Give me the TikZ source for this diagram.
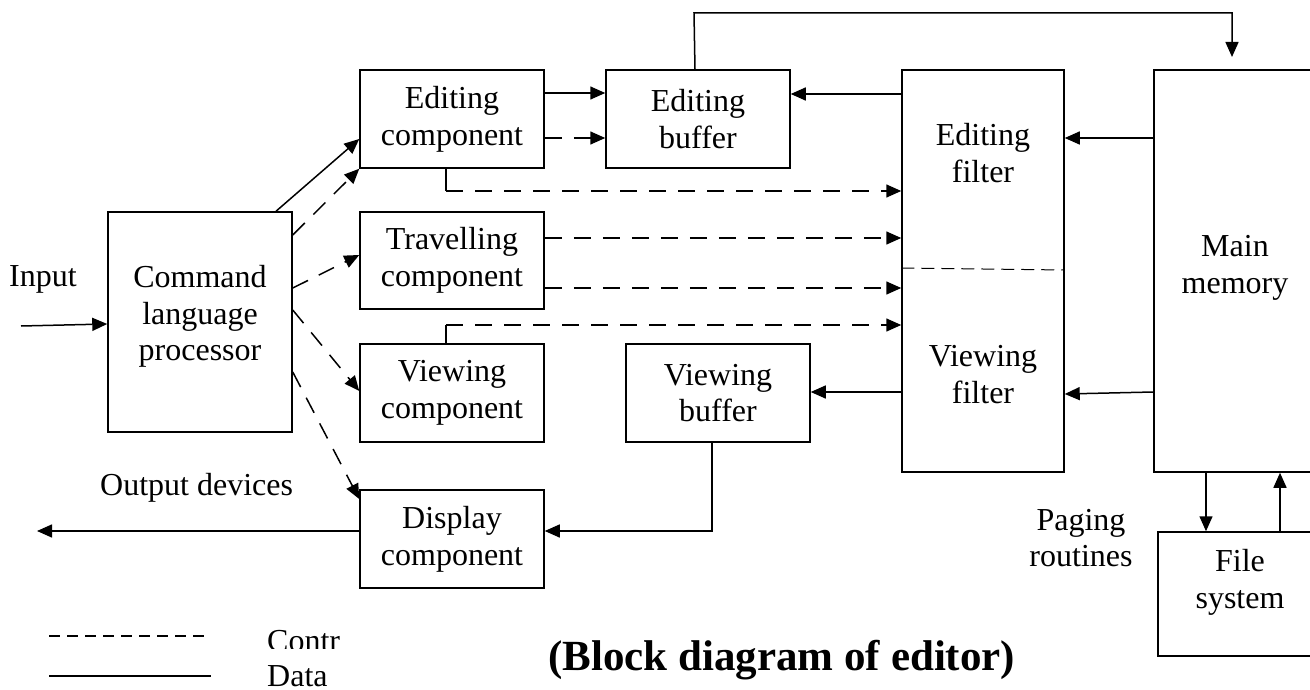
\documentclass[tikz,border=0pt]{standalone}
\usepackage{fontspec}
\setmainfont{Liberation Serif}
\usetikzlibrary{arrows.meta}
\begin{document}
\begin{tikzpicture}[x=1pt,y=-1pt,
  box/.style={draw,line width=1.5pt,inner sep=0pt,align=center,font=\fontsize{32}{36.7}\selectfont},
  txt/.style={inner sep=0pt,align=center,font=\fontsize{32}{36.7}\selectfont},
  dline/.style={line width=1.5pt,-{Triangle[length=15pt,width=13pt]}},
  cline/.style={dline,dash pattern=on 17pt off 12pt},
  pline/.style={line width=1.5pt},
]
\useasboundingbox (0,0) rectangle (1310,690);

% boxes
\node[box,minimum width=184pt,minimum height=220pt] (clp) at (200,322) {};
\node[txt] (clpt) at (200,316.5) {Command\\language\\processor};
\node[box,minimum width=184pt,minimum height=98pt] (ec) at (452,119) {Editing\\component};
\node[box,minimum width=184pt,minimum height=97pt] (tc) at (452,260.5) {Travelling\\component};
\node[box,minimum width=184pt,minimum height=98pt] (vc) at (452,393) {Viewing\\component};
\node[box,minimum width=184pt,minimum height=98pt] (dc) at (452,539) {Display\\component};
\node[box,minimum width=184pt,minimum height=98pt] (eb) at (698,119) {Editing\\buffer};
\node[box,minimum width=184pt,minimum height=98pt] (vb) at (718,393) {Viewing\\buffer};
\node[box,minimum width=162pt,minimum height=402pt] (flt) at (983,271) {};
\node[txt] (eft) at (983,153) {Editing\\filter};
\node[txt] (vft) at (983,374.5) {Viewing\\filter};
\node[box,minimum width=162pt,minimum height=402pt] (mm) at (1235,271) {};
\node[txt] (mmt) at (1235,268) {Main\\memory};
\node[box,minimum width=164pt,minimum height=124pt] (fs) at (1240,594) {};
\node[txt] (fst) at (1240,582.5) {File\\system};

\draw[line width=1pt,dash pattern=on 13pt off 7pt] (flt.west |- 0,268) -- (flt.east |- 0,270);

% labels
\node[txt,anchor=base west] (inl) at (9,286.7) {Input};
\node[txt,anchor=base west] (outl) at (100,495) {Output devices};
\node[txt] (pgl) at (1081,538) {Paging\\routines};

% input / output
\coordinate (in) at (21,326);
\draw[dline] (in) -- (clp.west |- 0,324);
\coordinate (out) at (37,531);
\draw[dline] (dc.west |- 0,531) -- (out);

% from command language processor
\draw[dline] (clp.north -| 276,0) -- (ec.west |- 0,139);
\draw[cline] (clp.east |- 0,235) -- (ec.south west);
\draw[cline] (clp.east |- 0,288) -- (tc.west |- 0,255);
\draw[cline] (clp.east |- 0,310) -- (vc.west |- 0,391);
\draw[cline] (clp.east |- 0,372) -- (dc.west |- 0,499);

% editing component to editing buffer
\draw[dline] (ec.east |- 0,93) -- (eb.west |- 0,93);
\draw[cline] (ec.east |- 0,138) -- (eb.west |- 0,138);

% filter / memory
\draw[dline] (flt.west |- 0,94) -- (eb.east |- 0,94);
\draw[dline] (mm.west |- 0,138) -- (flt.east |- 0,138);
\draw[dline] (mm.west |- 0,392) -- (flt.east |- 0,394);
\draw[dline] (flt.west |- 0,392) -- (vb.east |- 0,392);

% control lines into the filter
\coordinate (c1) at (446,191);
\draw[pline] (ec.south -| 446,0) -- (c1);
\draw[cline] (c1) -- (flt.west |- 0,191);
\draw[cline] (tc.east |- 0,238) -- (flt.west |- 0,238);
\draw[cline] (tc.east |- 0,288) -- (flt.west |- 0,288);
\coordinate (c2) at (446,325);
\draw[pline] (vc.north -| 446,0) -- (c2);
\draw[cline] (c2) -- (flt.west |- 0,325);

% viewing buffer to display
\draw[dline] (vb.south -| 712,0) -- (712,531) -- (dc.east |- 0,531);

% editing buffer to main memory
\coordinate (mmin) at (1232,57);
\draw[dline] (eb.north -| 695,0) -- (694,13) -- (1232,13) -- (mmin);

% paging
\draw[dline] (mm.south -| 1206,0) -- (fs.north -| 1206,0);
\draw[dline] (fs.north -| 1280,0) -- (mm.south -| 1280,0);

% legend
\coordinate (l1a) at (49,636);
\coordinate (l1b) at (211,636);
\coordinate (l2a) at (49,676);
\coordinate (l2b) at (211,676);
\draw[line width=1.5pt,dash pattern=on 11pt off 7pt] (l1a) -- (l1b);
\draw[pline] (l2a) -- (l2b);
\begin{scope}
\clip (250,615) rectangle (400,648);
\node[txt,anchor=base west] (contr) at (267,651) {Contr};
\end{scope}
\node[txt,anchor=base west] (datal) at (267,686) {Data};

% title
\node[anchor=base west,inner sep=0pt,font=\fontsize{43}{50}\selectfont\bfseries] (title) at (548,670.7) {(Block diagram of editor)};
\end{tikzpicture}
\end{document}
